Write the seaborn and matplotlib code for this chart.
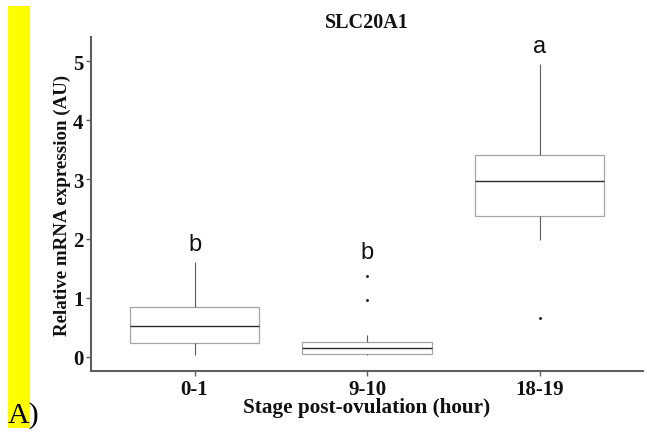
import numpy as np
import pandas as pd
import matplotlib
matplotlib.use("Agg")
import matplotlib.pyplot as plt
from matplotlib.patches import Rectangle
import seaborn as sns

# Five-number summaries per ovulation stage (relative mRNA expression, AU)
stages = ["0-1", "9-10", "18-19"]
whisker_low = [0.03, 0.03, 1.98]
quartile_1 = [0.24, 0.05, 2.38]
medians = [0.52, 0.15, 2.97]
quartile_3 = [0.85, 0.25, 3.41]
whisker_high = [1.60, 0.37, 4.95]

# Points outside the whiskers
outlier_stage = ["9-10", "9-10", "18-19"]
outlier_value = [0.96, 1.37, 0.66]

# Significance letters above each group
sig_letters = ["b", "b", "a"]
sig_y = [1.91, 1.77, 5.25]

y_ticks = [0, 1, 2, 3, 4, 5]

# Long table: each stage carries its five summary values, so the box quartiles
# and whisker ends fall exactly on them
rows = []
for i, st in enumerate(stages):
    for v in (whisker_low[i], quartile_1[i], medians[i], quartile_3[i], whisker_high[i]):
        rows.append({"stage": st, "expr": v})
summary = pd.DataFrame(rows)
outliers = pd.DataFrame({"stage": outlier_stage, "expr": outlier_value})

sns.set_theme(style="white")
plt.rcParams["font.family"] = ["Liberation Serif", "DejaVu Serif"]

W, H = 647, 439
fig = plt.figure(figsize=(W / 100, H / 100), dpi=100)
fig.patch.set_facecolor("white")

# axes box in pixel terms: x 91..643, y 38..372
ax = fig.add_axes([91 / W, 1 - 372 / H, (643 - 91) / W, (372 - 38) / H])

sns.boxplot(
    data=summary, x="stage", y="expr", order=stages, ax=ax,
    width=0.75, whis=np.inf, showcaps=False,
    boxprops={"facecolor": "white", "edgecolor": "#a6a6a6", "linewidth": 0.9},
    medianprops={"color": "#2a2a2a", "linewidth": 1.0},
    whiskerprops={"color": "#5a5a5a", "linewidth": 0.8},
)
sns.stripplot(
    data=outliers, x="stage", y="expr", order=stages, ax=ax,
    jitter=False, size=2.0, color="black", linewidth=0,
)

for i, (lab, yy) in enumerate(zip(sig_letters, sig_y)):
    ax.text(i, yy, lab, ha="center", va="center", fontsize=17,
            family=["Liberation Sans", "DejaVu Sans"], color="#111111")

ax.set_xlim(-0.6, 2.6)
ax.set_ylim(-0.24, 5.41)
ax.set_yticks(y_ticks)
ax.set_yticklabels([str(t) for t in y_ticks])

for side in ("top", "right"):
    ax.spines[side].set_visible(False)
for side in ("left", "bottom"):
    ax.spines[side].set_color("#5e5e5e")
    ax.spines[side].set_linewidth(1.5)

ax.tick_params(axis="both", which="major", direction="out", length=3.5,
               width=1.0, color="#5e5e5e", labelsize=15, pad=2,
               left=True, bottom=True)
for lbl in ax.get_xticklabels() + ax.get_yticklabels():
    lbl.set_fontweight("bold")
    lbl.set_color("#111111")

ax.set_xlabel("Stage post-ovulation (hour)", fontsize=15.3, fontweight="bold",
              color="#111111", va="center")
ax.xaxis.set_label_coords(0.5, (372 - 408) / (372 - 38))
ax.set_ylabel("Relative mRNA expression (AU)", fontsize=13.6, fontweight="bold",
              color="#111111", va="center")
ax.yaxis.set_label_coords((62 - 91) / (643 - 91), 0.5)

fig.text(367 / W, 1 - 23 / H, "SLC20A1", ha="center", va="center",
         fontsize=14.5, fontweight="bold", color="#111111")

# panel tag with highlighted backdrop
fig.patches.append(Rectangle((8 / W, 1 - 429 / H), 22 / W, (429 - 7) / H,
                             transform=fig.transFigure, facecolor="#ffff00",
                             edgecolor="none", zorder=0))
fig.text(8 / W, 1 - 423 / H, "A)", ha="left", va="baseline", fontsize=21.5,
         color="black")

fig.savefig("out.png", dpi=100, facecolor="white")
